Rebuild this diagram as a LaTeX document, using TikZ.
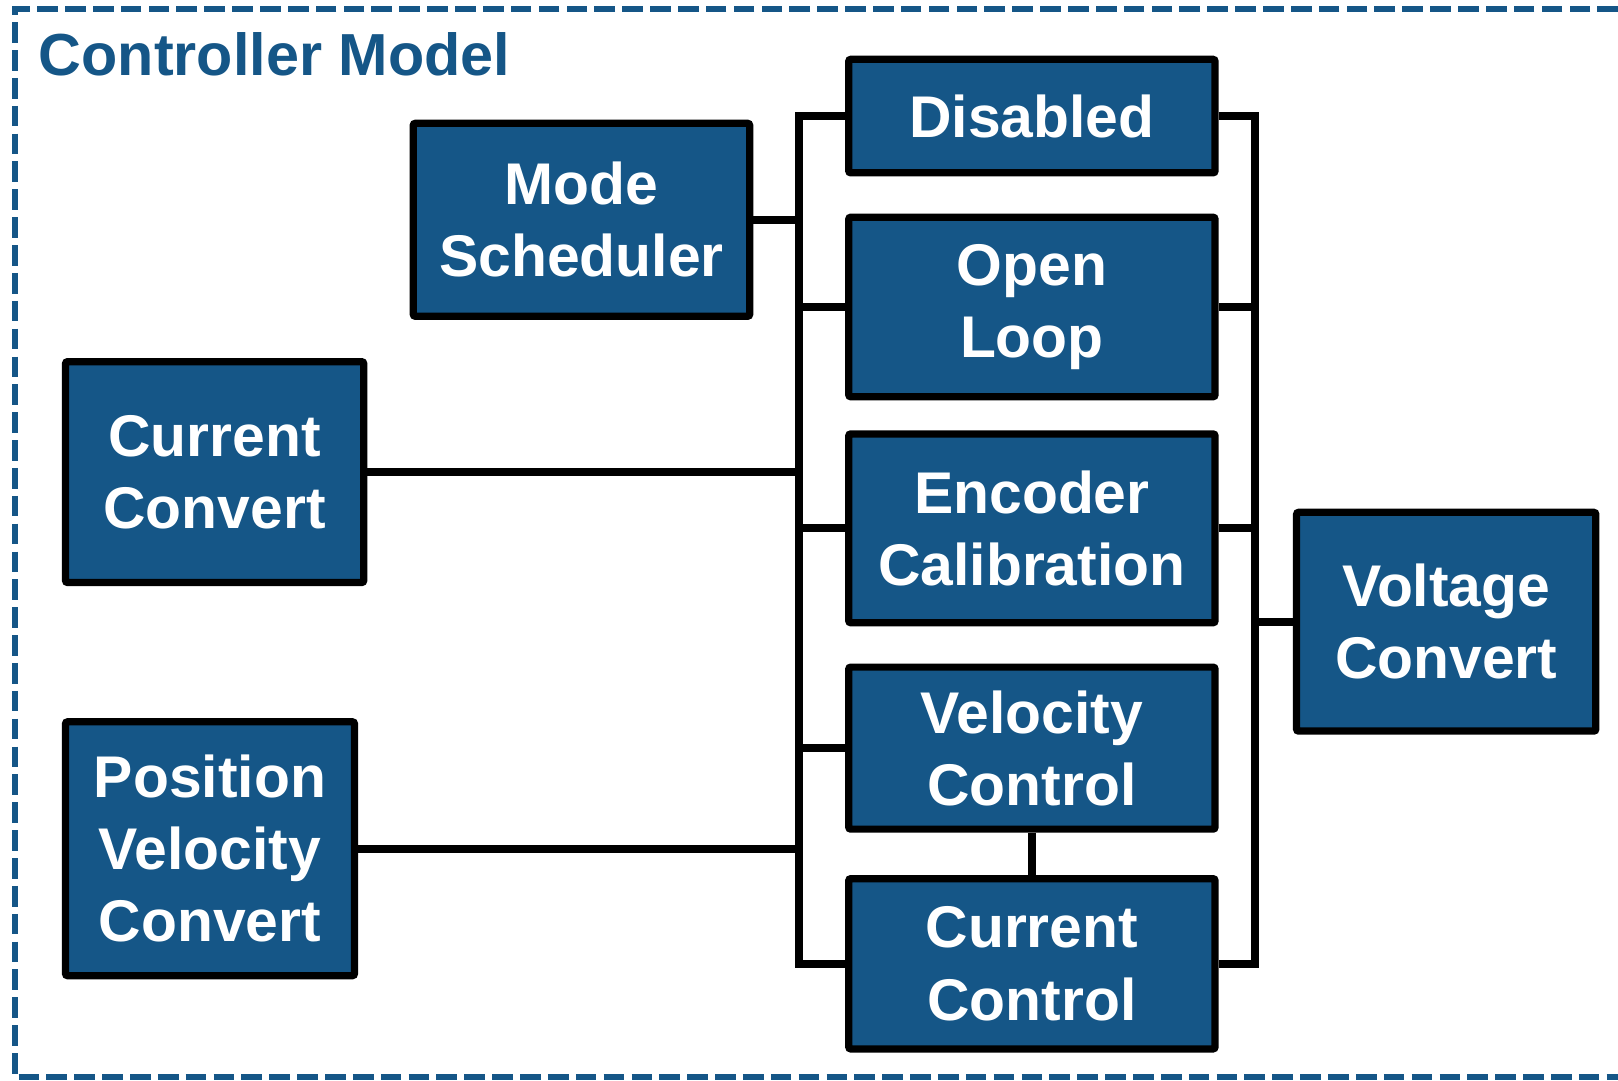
\documentclass[tikz,border=0pt]{standalone}
\usepackage{fontspec}
\setmainfont{Liberation Sans}
\definecolor{modelblue}{RGB}{21,86,135}
\tikzset{
  block/.style={draw=black, line width=7pt, fill=modelblue, text=white, font=\bfseries\fontsize{57}{70}\selectfont, align=center, rounded corners=2pt, inner sep=0pt},
  wire/.style={draw=black, line width=7.5pt},
}
\begin{document}
\begin{tikzpicture}[x=1pt,y=1pt]
\useasboundingbox (0,0) rectangle (1568,-1047);
\draw[modelblue, line width=6pt, dash pattern=on 20pt off 7pt] (1568,-9) -- (14.5,-9) -- (14.5,-1044) -- (1568,-1044);
\node[anchor=base west, text=modelblue, font=\bfseries\fontsize{57.5}{70}\selectfont] (title) at (34,-73) {Controller Model};
\node[block, minimum width=326pt, minimum height=187pt] (sched) at (563.5,-213) {Mode\\Scheduler};
\node[block, minimum width=289pt, minimum height=214pt] (curconv) at (208,-457.5) {Current\\Convert};
\node[block, minimum width=280pt, minimum height=246pt] (posvel) at (203.5,-822.5) {Position\\Velocity\\Convert};
\node[block, minimum width=355pt, minimum height=110pt] (dis) at (1000,-112.5) {Disabled};
\node[block, minimum width=355pt, minimum height=174pt] (open) at (1000,-297.5) {Open\\Loop};
\node[block, minimum width=355pt, minimum height=183pt] (enc) at (1000,-512) {Encoder\\Calibration};
\node[block, minimum width=355pt, minimum height=157pt] (vel) at (1000,-725) {Velocity\\Control};
\node[block, minimum width=355pt, minimum height=165pt] (cc) at (1000,-934) {Current\\Control};
\node[block, minimum width=290pt, minimum height=212pt] (volt) at (1401.5,-602.5) {Voltage\\Convert};
\coordinate (lbus) at (774,0);
\coordinate (rbus) at (1216,0);
\draw[wire] (dis.west) -- (dis.west -| lbus) -- (cc.west -| lbus) -- (cc.west);
\draw[wire] (sched.east) -- (sched.east -| lbus);
\draw[wire] (open.west) -- (open.west -| lbus);
\draw[wire] (curconv.east) -- (curconv.east -| lbus);
\draw[wire] (enc.west) -- (enc.west -| lbus);
\draw[wire] (vel.west) -- (vel.west -| lbus);
\draw[wire] (posvel.east) -- (posvel.east -| lbus);
\draw[wire] (dis.east) -- (dis.east -| rbus) -- (cc.east -| rbus) -- (cc.east);
\draw[wire] (open.east) -- (open.east -| rbus);
\draw[wire] (enc.east) -- (enc.east -| rbus);
\draw[wire] (volt.west) -- (volt.west -| rbus);
\draw[wire] (vel.south) -- (cc.north);
\end{tikzpicture}
\end{document}
